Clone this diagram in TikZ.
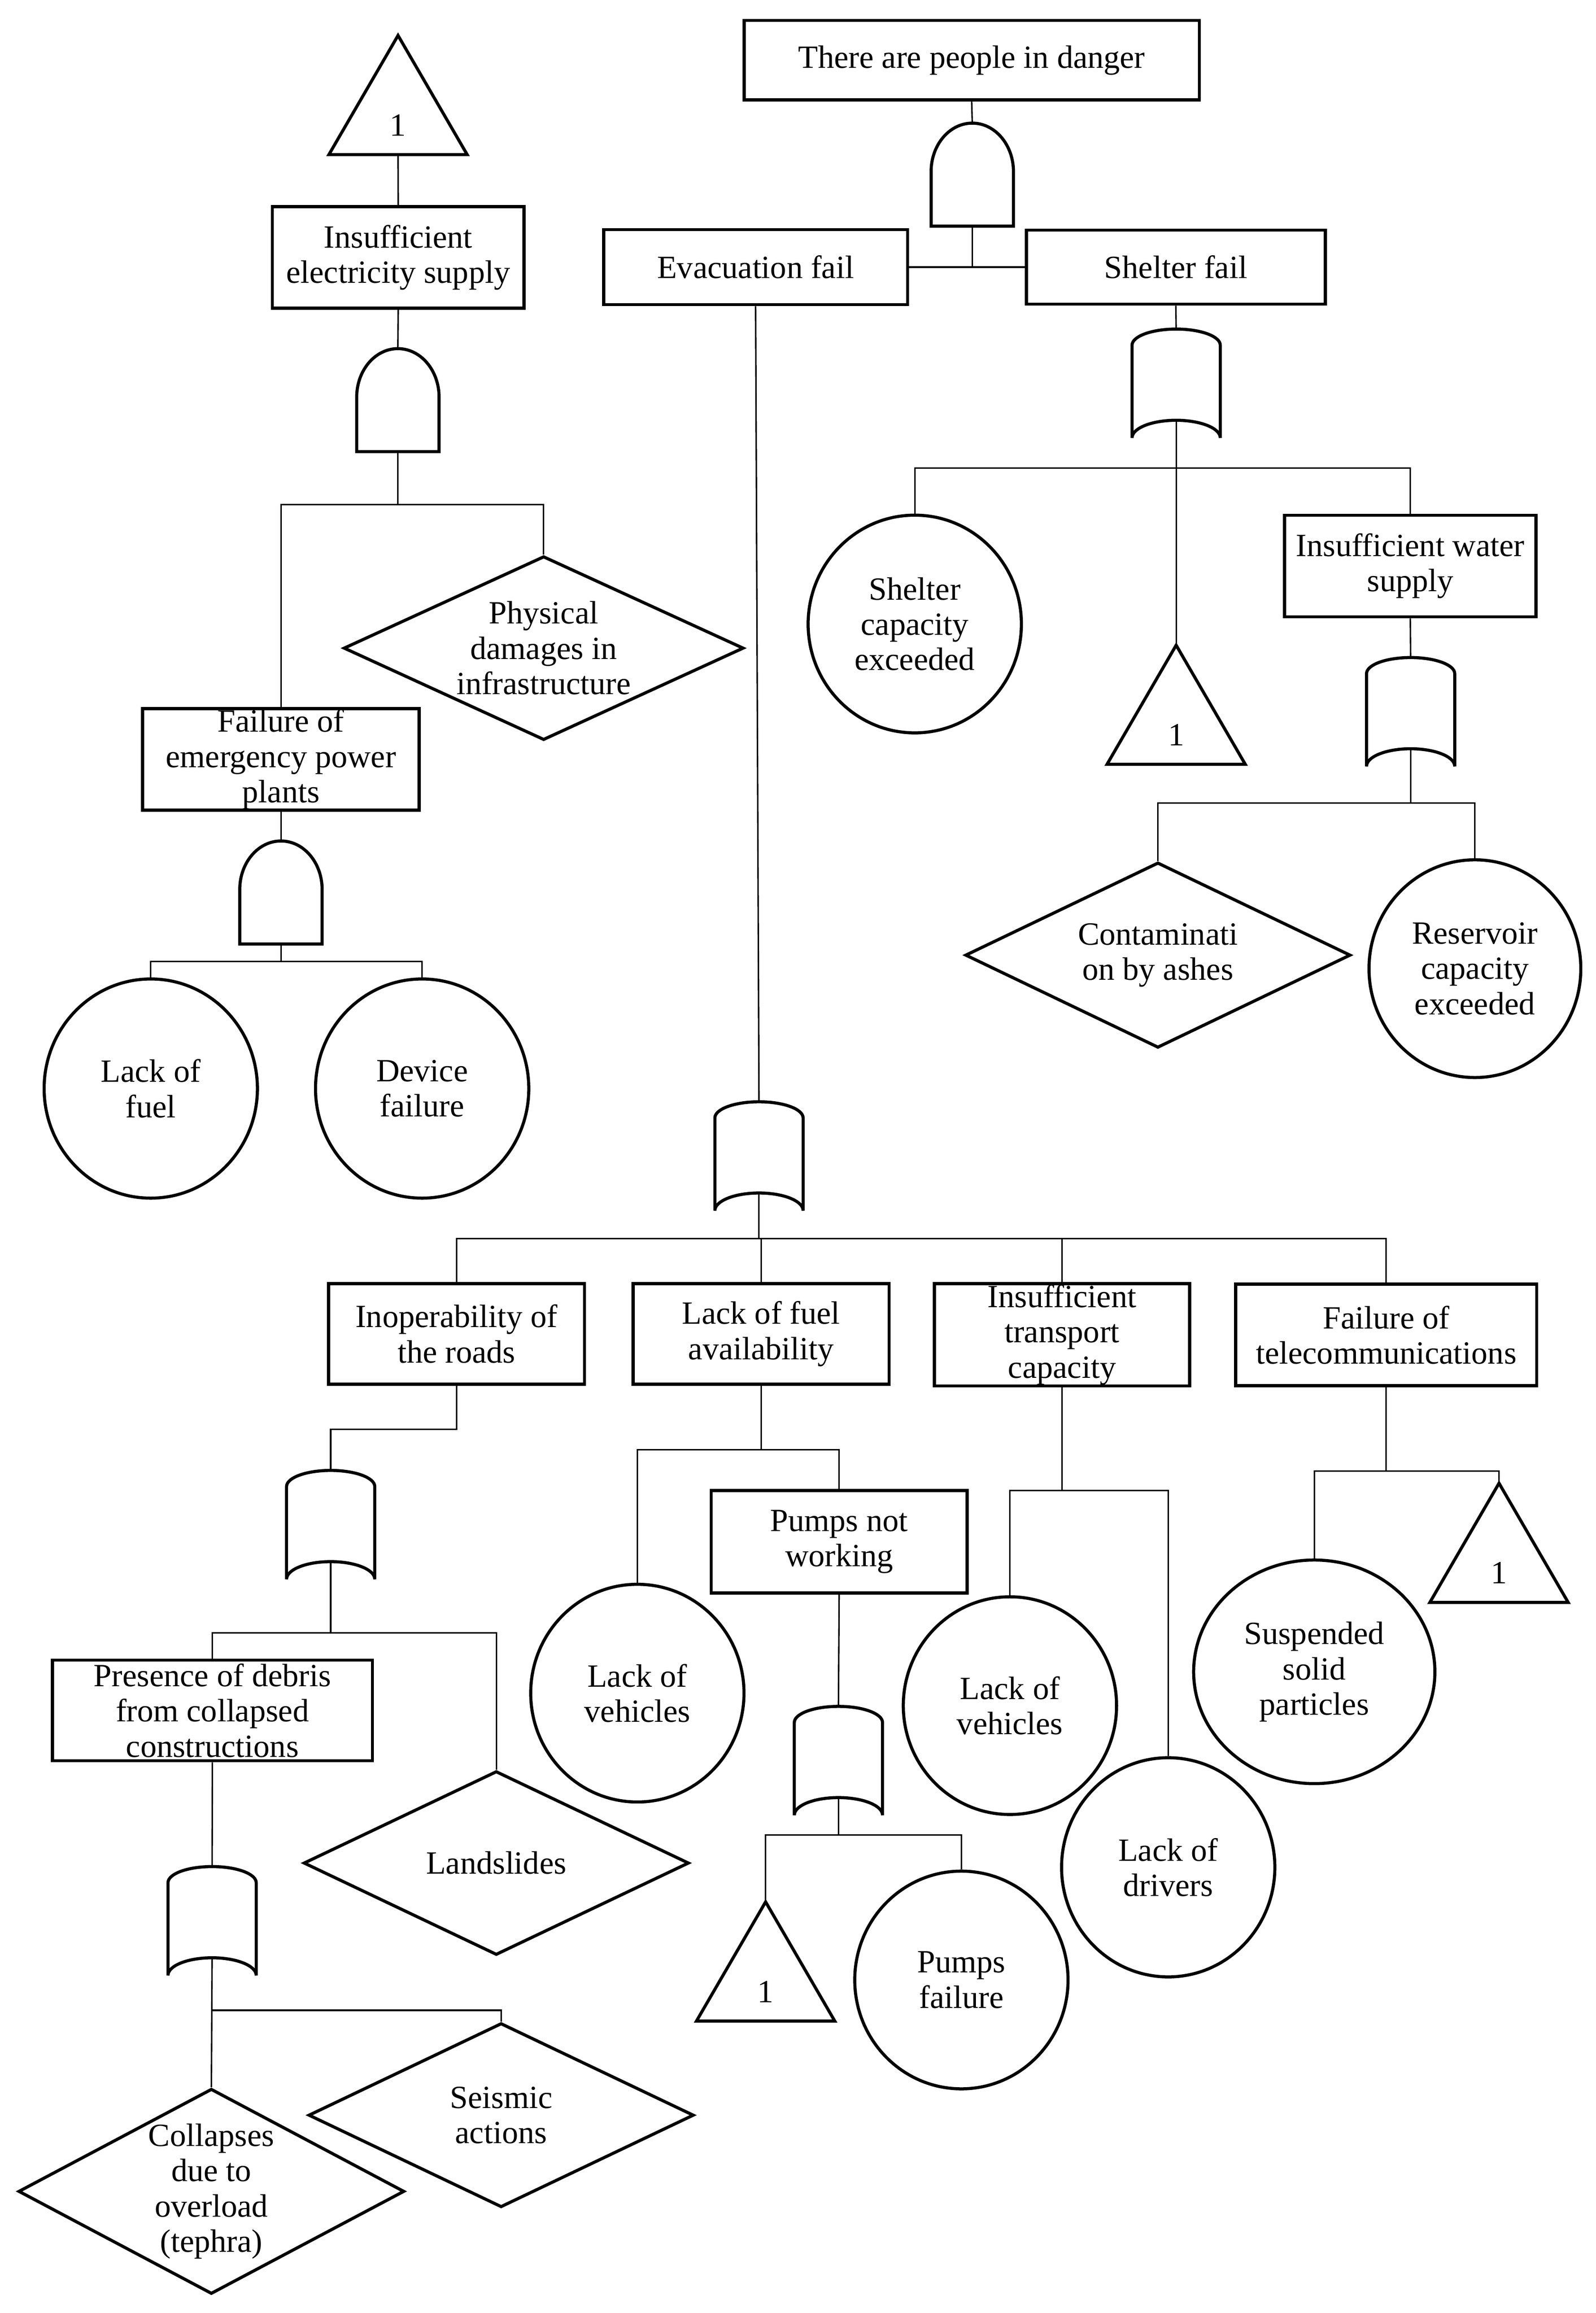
\documentclass[tikz,border=0pt]{standalone}
\usepackage{fontspec}
\setmainfont{Liberation Serif}
\usetikzlibrary{shapes.geometric,calc}
\newcommand\evtfont{\fontsize{22}{24}\selectfont}
\tikzset{
  shp/.style={line width=2.1pt, line join=miter},
  con/.style={line width=1pt},
  txt/.style={align=center, inner sep=0pt, font=\evtfont},
  box/.style={draw, shp, rectangle, inner sep=0pt, align=center, font=\evtfont},
  evt/.style={draw, shp, ellipse, inner sep=0pt, align=center, font=\evtfont},
  dia/.style={draw, shp, diamond, inner sep=0pt},
  pics/andgate/.style={code={
    \draw[shp] (-28,35) -- (-28,-2) .. controls (-28,-20.2) and (-15.5,-35) .. (0,-35)
      .. controls (15.5,-35) and (28,-20.2) .. (28,-2) -- (28,35) -- cycle;
    \coordinate (-in) at (0,-35);
    \coordinate (-out) at (0,35);
  }},
  pics/orgate/.style={code={
    \draw[shp] (-30,37) -- (-30,-26) .. controls (-30,-32.1) and (-16.6,-37) .. (0,-37)
      .. controls (16.6,-37) and (30,-32.1) .. (30,-26) -- (30,37)
      .. controls (30,30.4) and (16.6,25) .. (0,25)
      .. controls (-16.6,25) and (-30,30.4) .. (-30,37) -- cycle;
    \coordinate (-in) at (0,-37);
    \coordinate (-out) at (0,25);
  }},
  pics/tri/.style={code={
    \draw[shp] (0,0) -- (47,81) -- (-47,81) -- cycle;
    \node[txt] (-lbl) at (0,61) {1};
    \coordinate (-in) at (0,0);
    \coordinate (-out) at (0,81);
  }}
}
\begin{document}
\begin{tikzpicture}[x=1pt,y=-1pt]
\fill[white] (0,0) rectangle (1085,1572.4);
\useasboundingbox (0,0) rectangle (1085,1572.4);

% ---------- top ----------
\node[box, minimum width=309.5pt, minimum height=54.1pt] (top) at (660.6,40.9) {There are people in danger};
\pic (gA1) at (661,118.7) {andgate};
\node[box, minimum width=206.6pt, minimum height=51pt] (evac) at (513.7,181.6) {Evacuation fail};
\node[box, minimum width=203.3pt, minimum height=50.4pt] (shelter) at (799.4,181.6) {Shelter fail};
\coordinate (j0) at (661,181.6);
\draw[con] (top.south) -- (gA1-in);
\draw[con] (gA1-out) -- (j0);
\draw[con] (evac.east) -- (shelter.west);

% ---------- shelter branch ----------
\pic (gO1) at (799.6,260.7) {orgate};
\draw[con] (shelter.south) -- (gO1-in);
\node[evt, minimum width=145pt, minimum height=148pt] (shcap) at (621.9,424.2) {Shelter\\capacity\\exceeded};
\pic (t2) at (799.6,438.6) {tri};
\node[box, minimum width=171pt, minimum height=69pt] (water) at (958.8,384.8) {Insufficient water\\supply};
\coordinate (j11) at (799.6,318.2);
\draw[con] (gO1-out) -- (t2-in);
\draw[con] (shcap.north) |- (j11) -| (water.north);
\pic (gO2) at (959,484) {orgate};
\draw[con] (water.south) -- (gO2-in);
\node[dia, minimum width=262pt, minimum height=126pt] (contam) at (787.2,649.3) {};
\node[txt] (contam-t) at (contam) {Contaminati\\on by ashes};
\node[evt, minimum width=144pt, minimum height=148pt] (reserv) at (1002.7,658.5) {Reservoir\\capacity\\exceeded};
\coordinate (j12) at (959,545.8);
\draw[con] (gO2-out) -- (j12);
\draw[con] (contam.north) |- (j12) -| (reserv.north);

% ---------- left tree ----------
\pic (t1) at (270.6,24.1) {tri};
\node[box, minimum width=171pt, minimum height=69pt] (elec) at (270.7,175) {Insufficient\\electricity supply};
\draw[con] (t1-out) -- (elec.north);
\pic (gA2) at (270.5,272) {andgate};
\draw[con] (elec.south) -- (gA2-in);
\node[dia, minimum width=272pt, minimum height=125pt] (phys) at (369.6,440.6) {};
\node[txt] (phys-t) at (phys) {Physical\\damages in\\infrastructure};
\node[box, minimum width=188pt, minimum height=69pt] (failure) at (191,516.2) {Failure of\\emergency power\\plants};
\coordinate (j2) at (270.5,343.1);
\draw[con] (gA2-out) -- (j2);
\draw[con] (failure.north) |- (j2) -| (phys.north);
\pic (gA3) at (191,606.7) {andgate};
\draw[con] (failure.south) -- (gA3-in);
\node[evt, minimum width=145pt, minimum height=149pt] (lfuel) at (102.5,740) {Lack of\\fuel};
\node[evt, minimum width=145pt, minimum height=149pt] (device) at (287,740) {Device\\failure};
\coordinate (j10) at (191,653.5);
\draw[con] (gA3-out) -- (j10);
\draw[con] (lfuel.north) |- (j10) -| (device.north);

% ---------- evacuation branch ----------
\pic (gO3) at (516,786) {orgate};
\draw[con] (evac.south) -- (gO3-in);
\node[box, minimum width=174pt, minimum height=68.5pt] (roads) at (310.4,906.8) {Inoperability of\\the roads};
\node[box, minimum width=174pt, minimum height=68.5pt] (fuel) at (517.4,906.8) {Lack of fuel\\availability};
\node[box, minimum width=173.5pt, minimum height=69.6pt] (transp) at (722,907.4) {Insufficient\\transport\\capacity};
\node[box, minimum width=204.6pt, minimum height=69pt] (telecom) at (942.4,907.5) {Failure of\\telecommunications};
\coordinate (j3) at (516,842);
\draw[con] (gO3-out) -- (j3);
\draw[con] (roads.north) |- (j3) -| (telecom.north);
\draw[con] (fuel.north) -- (fuel.north |- j3);
\draw[con] (transp.north) -- (transp.north |- j3);

% roads
\pic (gO4) at (224.8,1036.6) {orgate};
\draw[con] (roads.south) -- ++(0,29.6) -| (gO4-in);
\node[box, minimum width=217.6pt, minimum height=68.4pt] (debris) at (144.4,1162.8) {Presence of debris\\from collapsed\\constructions};
\node[dia, minimum width=262pt, minimum height=125pt] (lands) at (337.4,1266.5) {};
\node[txt] (lands-t) at (lands) {Landslides};
\coordinate (j4) at (224.8,1110);
\draw[con] (gO4-out) -- (j4);
\draw[con] (debris.north) |- (j4) -| (lands.north);
\pic (gO5) at (144.2,1305.9) {orgate};
\draw[con] (debris.south) -- (gO5-in);
\node[dia, minimum width=262.4pt, minimum height=139.5pt] (coll) at (143.7,1489.7) {};
\node[txt] (coll-t) at (coll) {Collapses\\due to\\overload\\(tephra)};
\node[dia, minimum width=262pt, minimum height=125.2pt] (seis) at (340.7,1437.9) {};
\node[txt] (seis-t) at (seis) {Seismic\\actions};
\coordinate (j5) at (144.2,1366.6);
\draw[con] (gO5-out) -- (coll.north);
\draw[con] (j5) -| (seis.north);

% fuel
\node[evt, minimum width=145pt, minimum height=148pt] (vehL) at (433.3,1151) {Lack of\\vehicles};
\node[box, minimum width=174pt, minimum height=69.6pt] (pumps) at (570.5,1048.1) {Pumps not\\working};
\coordinate (j6) at (517.4,985.5);
\draw[con] (fuel.south) -- (j6);
\draw[con] (vehL.north) |- (j6) -| (pumps.north);
\pic (gO6) at (570,1197) {orgate};
\draw[con] (pumps.south) -- (gO6-in);
\pic (t3) at (520.5,1292.9) {tri};
\node[evt, minimum width=145pt, minimum height=148pt] (pfail) at (653.6,1346) {Pumps\\failure};
\coordinate (j7) at (570,1247.3);
\draw[con] (gO6-out) -- (j7);
\draw[con] (t3-in) |- (j7) -| (pfail.north);

% transport
\node[evt, minimum width=145pt, minimum height=148pt] (vehM) at (686.6,1159.5) {Lack of\\vehicles};
\node[evt, minimum width=145pt, minimum height=149pt] (drivers) at (794.2,1269.4) {Lack of\\drivers};
\coordinate (j8) at (722,1013.3);
\draw[con] (transp.south) -- (j8);
\draw[con] (vehM.north) |- (j8) -| (drivers.north);

% telecom
\node[evt, minimum width=164pt, minimum height=152pt] (susp) at (893.5,1136.5) {Suspended\\solid\\particles};
\pic (t4) at (1019.1,1008.3) {tri};
\coordinate (j9) at (942.4,999.9);
\draw[con] (telecom.south) -- (j9);
\draw[con] (susp.north) |- (j9) -| (t4-in);
\end{tikzpicture}
\end{document}
